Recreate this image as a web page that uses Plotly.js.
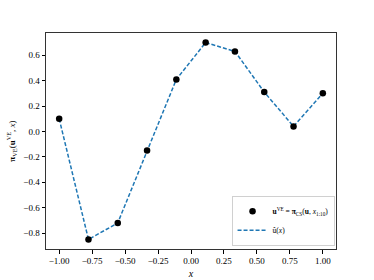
<!DOCTYPE html>
<html><head><meta charset="utf-8">
<script src="https://cdn.plot.ly/plotly-3.0.1.min.js"></script>
<style>html,body{margin:0;padding:0;background:#fff}#c{width:374px;height:280px}</style>
</head><body><div id="c"></div>
<script>
const xs = [-1.0, -0.7778, -0.5556, -0.3333, -0.1111, 0.1111, 0.3333, 0.5556, 0.7778, 1.0];
const ys = [0.10, -0.85, -0.72, -0.15, 0.41, 0.70, 0.63, 0.31, 0.04, 0.30];
const xTicks = [-1.0, -0.75, -0.5, -0.25, 0.0, 0.25, 0.5, 0.75, 1.0];
const xTickText = ["−1.00","−0.75","−0.50","−0.25","0.00","0.25","0.50","0.75","1.00"];
const yTicks = [-0.8, -0.6, -0.4, -0.2, 0.0, 0.2, 0.4, 0.6];
const yTickText = ["−0.8","−0.6","−0.4","−0.2","0.0","0.2","0.4","0.6"];

const F = "Liberation Serif, DejaVu Serif, serif";
const markerTrace = {x: xs, y: ys, mode: 'markers', type: 'scatter',
   name: '<b>u</b><sup>VE</sup> = <b>π</b><sub>CS</sub>(<b>u</b>, <i>x</i><sub>1:10</sub>)',
   marker: {color: '#000', size: 6.5}};
const lineTrace = {x: xs, y: ys, mode: 'lines', type: 'scatter', name: 'û(<i>x</i>)',
   line: {color: '#1f77b4', dash: '4px,2px', width: 1.5}};
const data = [lineTrace, markerTrace];
const layout = {
  width: 374, height: 280,
  margin: {l: 46, r: 38, t: 33, b: 31},
  paper_bgcolor: '#fff', plot_bgcolor: '#fff',
  font: {family: F, size: 9, color: '#000'},
  showlegend: true,
  legend: {traceorder: 'reversed', x: 0.995, y: 0.015, xanchor: 'right', yanchor: 'bottom',
    bordercolor: '#d0d0d0', borderwidth: 1, bgcolor: 'rgba(255,255,255,0.8)',
    font: {family: F, size: 7.5}, itemwidth: 30, tracegroupgap: 0},
  xaxis: {range: [-1.1, 1.1], tickvals: xTicks, ticktext: xTickText,
    ticks: 'outside', ticklen: 3.5, tickcolor: '#000', showgrid: false, zeroline: false,
    showline: true, linecolor: '#333', linewidth: 1, mirror: true,
    title: {text: '<i>x</i>', font: {family: F, size: 10}, standoff: 4}},
  yaxis: {range: [-0.925, 0.775], tickvals: yTicks, ticktext: yTickText,
    ticks: 'outside', ticklen: 3.5, tickcolor: '#000', showgrid: false, zeroline: false,
    showline: true, linecolor: '#333', linewidth: 1, mirror: true,
    title: {text: '<b>π</b><sub>VE</sub>(<b>u</b><sup>VE</sup>, <i>x</i>)', font: {family: F, size: 9}, standoff: 6}}
};
Plotly.newPlot('c', data, layout, {displayModeBar: false, staticPlot: true});
</script></body></html>
